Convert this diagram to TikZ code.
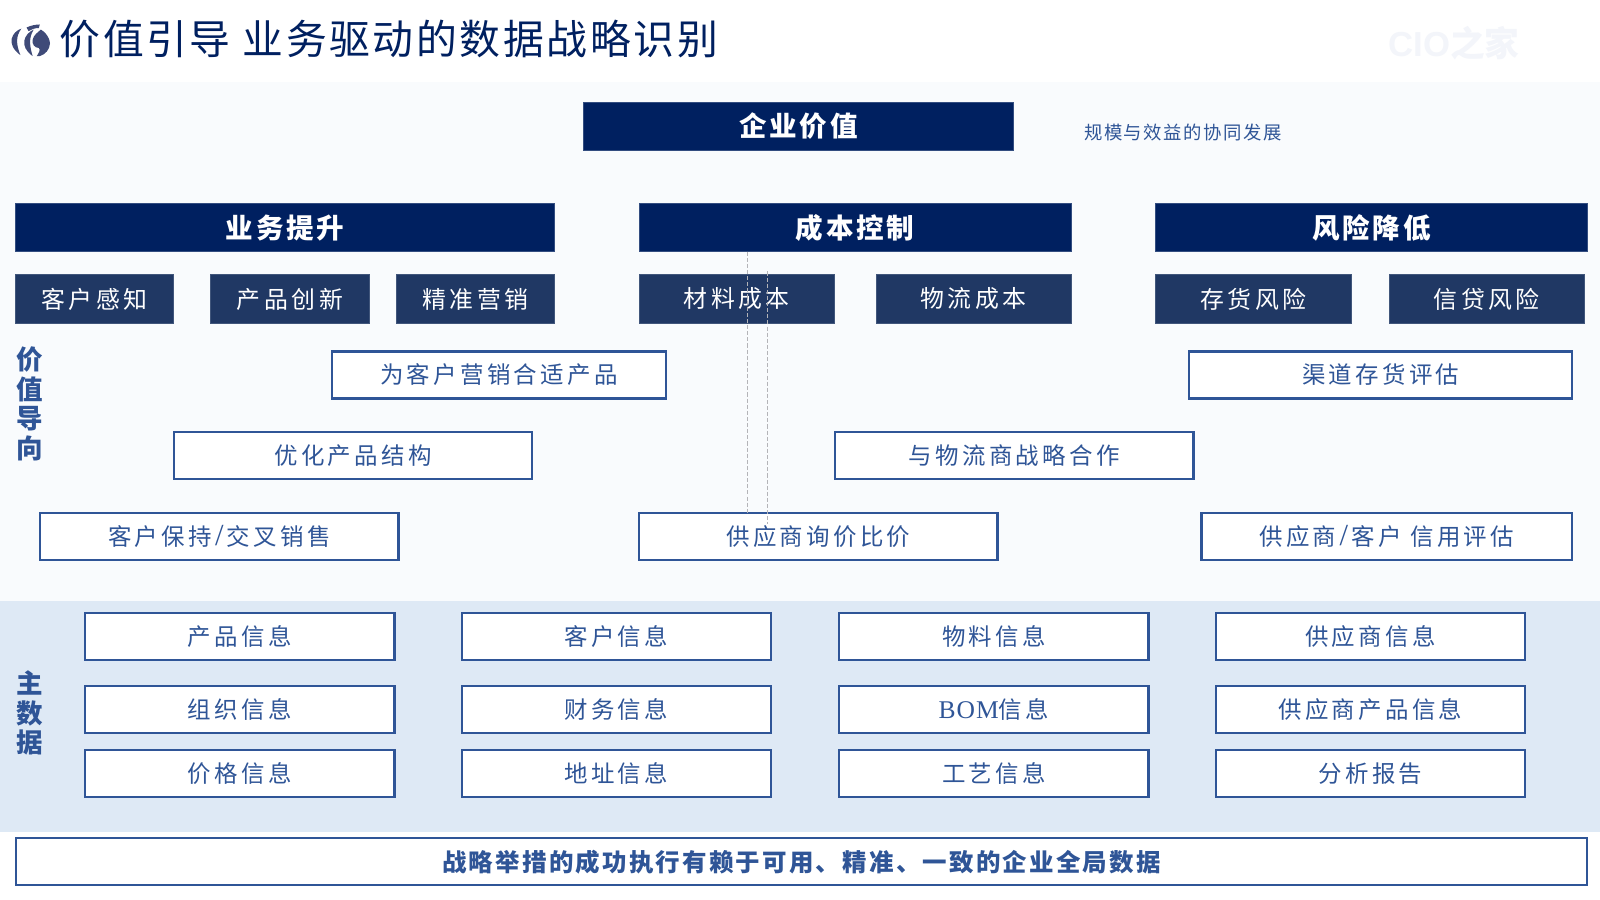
\documentclass[tikz,border=0pt]{standalone}
\usepackage{fontspec}
\newfontfamily\cjk{Noto Sans CJK SC}
\newfontfamily\cjkt[LetterSpace=6.5]{Noto Sans CJK SC}
\newfontfamily\cjks[LetterSpace=15]{Noto Sans CJK SC}
\newfontfamily\cjkw[LetterSpace=14]{Noto Sans CJK SC}
\newfontfamily\cjkn[LetterSpace=8.6]{Noto Sans CJK SC}
\newfontfamily\cjkf[LetterSpace=9]{Noto Sans CJK SC}
\newfontfamily\cjkh[LetterSpace=10]{Noto Sans CJK SC}
\newfontfamily\ltn[LetterSpace=4]{Liberation Serif}
\newfontfamily\ltns{Liberation Serif}
\newcommand{\slashmark}{\kern1.6pt{\ltns\fontsize{15}{15}\selectfont /}\kern1.6pt}
\definecolor{navy}{HTML}{002060}
\definecolor{subnavy}{HTML}{203864}
\definecolor{bord}{HTML}{2F5597}
\definecolor{panela}{HTML}{F9FBFD}
\definecolor{panelb}{HTML}{DEE9F5}
\definecolor{wm}{HTML}{F3F5FA}
\definecolor{dash}{HTML}{B4B4B8}
\definecolor{logoc}{HTML}{3F4A78}
\tikzset{
  sz/.style 2 args={minimum width=#1*0.5pt-0.4pt,minimum height=#2*0.5pt-0.4pt,inner sep=0pt,outer sep=0pt},
  headbox/.style={fill=navy,draw=navy!80!white,line width=0.4pt,text=white,font=\cjkh\fontsize{13.5}{15}\selectfont\bfseries},
  subbox/.style={fill=subnavy,draw=subnavy!85!white,line width=0.4pt,text=white,font=\cjks\fontsize{11.7}{13}\selectfont},
  whitebox/.style={fill=white,draw=bord,line width=1.1pt,text=bord,font=\cjkw\fontsize{11.5}{13}\selectfont},
  sidelabel/.style={text=bord,align=center,inner sep=0pt,font=\cjk\fontsize{13}{14.5}\selectfont\bfseries},
  guide/.style={draw=dash,line width=0.35pt,dash pattern=on 2pt off 1pt},
}
\begin{document}
\begin{tikzpicture}[x=0.5pt,y=-0.5pt]
\useasboundingbox (0,0) rectangle (1568,882);
\fill[white] (0,0) rectangle (1568,882);
\fill[panela] (0,80) rectangle (1568,589);
\fill[panelb] (0,589) rectangle (1568,815);

% logo
\begin{scope}[color=logoc]
\fill (21,28) .. controls (12,31) and (5,43) .. (20,54) .. controls (16,44) and (15,36) .. (21,28) -- cycle;
\fill (33,29) .. controls (24,33) and (18,45) .. (32,55) .. controls (29,45) and (28,37) .. (33,29) -- cycle;
\fill (26,27) .. controls (30,25) and (35,24) .. (39,24) -- (38,27.5) .. controls (34,27.5) and (31,28.5) .. (28,30.5) -- cycle;
\fill (40,29) .. controls (47,33) and (51,42) .. (48,47) .. controls (46,52) and (40,56) .. (36,55) .. controls (38,52) and (40,49) .. (38,47) .. controls (34,47) and (31,43) .. (32,39) .. controls (33,34) and (37,32) .. (40,29) -- cycle;
\end{scope}

\node[anchor=west,inner sep=0pt,text=navy,font=\cjkt\fontsize{20}{22}\selectfont] (title) at (58,38) {价值引导 业务驱动的数据战略识别};
\node[anchor=center,inner sep=0pt,text=wm,font=\fontspec{Liberation Sans}\fontsize{17}{18}\selectfont\bfseries] (wmark) at (1425,42) {CIO{\cjk 之家}};

\node[headbox,sz={423}{48}] (ent) at (782.5,124) {企业价值};
\node[anchor=west,inner sep=0pt,text=bord,font=\cjkn\fontsize{9}{10}\selectfont] (entnote) at (1062,130) {规模与效益的协同发展};

\node[headbox,sz={529}{48}] (biz) at (279.5,223) {业务提升};
\node[headbox,sz={424}{48}] (cost) at (838,223) {成本控制};
\node[headbox,sz={424}{48}] (risk) at (1344,223) {风险降低};

\node[subbox,sz={155}{48}] (s1) at (92.5,293) {客户感知};
\node[subbox,sz={156}{48}] (s2) at (284,293) {产品创新};
\node[subbox,sz={156}{48}] (s3) at (466,293) {精准营销};
\node[subbox,sz={192}{48}] (s4) at (722,293) {材料成本};
\node[subbox,sz={192}{48}] (s5) at (954,293) {物流成本};
\node[subbox,sz={193}{48}] (s6) at (1228.5,293) {存货风险};
\node[subbox,sz={192}{48}] (s7) at (1457,293) {信贷风险};

\node[sidelabel] (vl) at (29,396) {价\\值\\导\\向};

\node[whitebox,sz={328}{47}] (v1) at (489,367.5) {为客户营销合适产品};
\node[whitebox,sz={376}{47}] (v2) at (1353,367.5) {渠道存货评估};
\node[whitebox,sz={352}{47}] (v3) at (346,446.5) {优化产品结构};
\node[whitebox,sz={352}{47}] (v4) at (994,446.5) {与物流商战略合作};
\node[whitebox,sz={352}{47}] (v5) at (215,525.5) {客户保持\slashmark 交叉销售};
\node[whitebox,sz={352}{47}] (v6) at (802,525.5) {供应商询价比价};
\node[whitebox,sz={364}{47}] (v7) at (1359,525.5) {供应商\slashmark 客户 信用评估};

% faint guide lines
\coordinate (g1) at (732,0);
\coordinate (g2) at (752,266);
\coordinate (g3) at (752,514);
\draw[guide] (cost.south -| g1) -- (v6.north -| g1);
\draw[guide] (g2) -- (g3);

\node[sidelabel] (ml) at (29,699) {主\\数\\据};

\node[whitebox,sz={304}{47}] (m11) at (235,624) {产品信息};
\node[whitebox,sz={304}{47}] (m12) at (604,624) {客户信息};
\node[whitebox,sz={304}{47}] (m13) at (974,624) {物料信息};
\node[whitebox,sz={304}{47}] (m14) at (1343,624) {供应商信息};
\node[whitebox,sz={304}{47}] (m21) at (235,695.5) {组织信息};
\node[whitebox,sz={304}{47}] (m22) at (604,695.5) {财务信息};
\node[whitebox,sz={304}{47}] (m23) at (974,695.5) {{\ltn\fontsize{12.5}{13}\selectfont BOM}信息};
\node[whitebox,sz={304}{47}] (m24) at (1343,695.5) {供应商产品信息};
\node[whitebox,sz={304}{47}] (m31) at (235,758) {价格信息};
\node[whitebox,sz={304}{47}] (m32) at (604,758) {地址信息};
\node[whitebox,sz={304}{47}] (m33) at (974,758) {工艺信息};
\node[whitebox,sz={304}{47}] (m34) at (1343,758) {分析报告};

\node[whitebox,sz={1541}{47},font=\cjkf\fontsize{12}{13}\selectfont\bfseries] (foot) at (785.5,844.5) {战略举措的成功执行有赖于可用、精准、一致的企业全局数据};
\end{tikzpicture}
\end{document}
